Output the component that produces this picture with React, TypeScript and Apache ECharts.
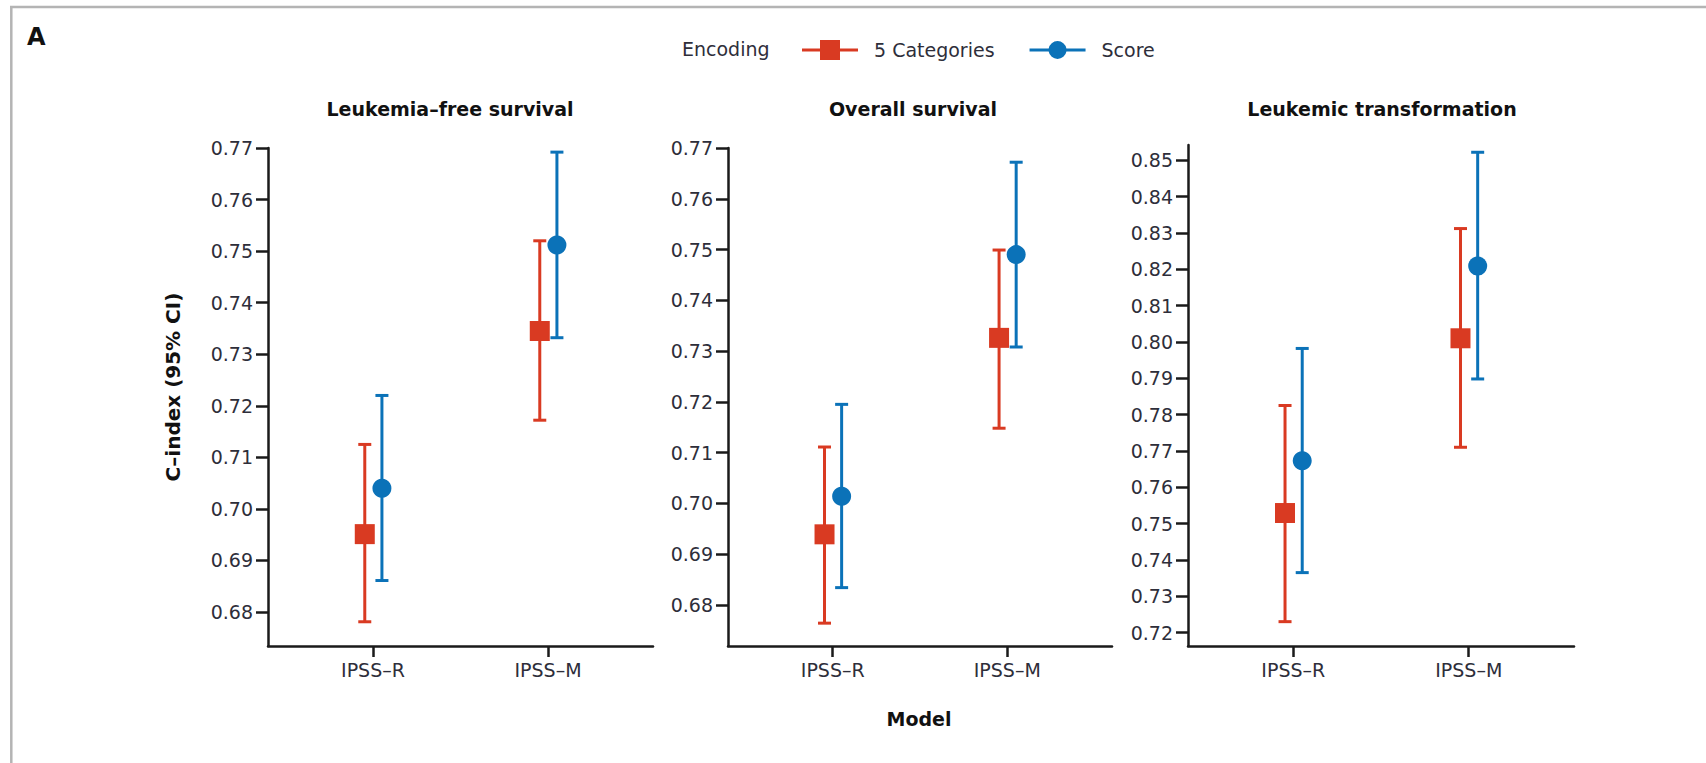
import React, { useEffect, useRef } from "react";
import * as echarts from "echarts";

const categories = ["IPSS–R", "IPSS–M"];
const panelTitles = ["Leukemia–free survival", "Overall survival", "Leukemic transformation"];
const seriesNames = ["5 Categories", "Score"];

// Leukemia-free survival
const lfsCatEst = [0.6951, 0.7345];
const lfsCatLow = [0.6781, 0.7172];
const lfsCatHigh = [0.7125, 0.752];
const lfsScoreEst = [0.704, 0.7512];
const lfsScoreLow = [0.6861, 0.7332];
const lfsScoreHigh = [0.722, 0.7692];

// Overall survival
const osCatEst = [0.6939, 0.7326];
const osCatLow = [0.6764, 0.7148];
const osCatHigh = [0.7111, 0.7499];
const osScoreEst = [0.7014, 0.749];
const osScoreLow = [0.6834, 0.7308];
const osScoreHigh = [0.7195, 0.7672];

// Leukemic transformation
const ltCatEst = [0.7529, 0.801];
const ltCatLow = [0.723, 0.771];
const ltCatHigh = [0.7825, 0.8312];
const ltScoreEst = [0.7673, 0.8209];
const ltScoreLow = [0.7365, 0.7898];
const ltScoreHigh = [0.7982, 0.8522];

const ticksA = [0.68, 0.69, 0.7, 0.71, 0.72, 0.73, 0.74, 0.75, 0.76, 0.77];
const ticksB = [0.68, 0.69, 0.7, 0.71, 0.72, 0.73, 0.74, 0.75, 0.76, 0.77];
const ticksC = [0.72, 0.73, 0.74, 0.75, 0.76, 0.77, 0.78, 0.79, 0.8, 0.81, 0.82, 0.83, 0.84, 0.85];

const RED = "#d93a22";
const BLUE = "#0b72b8";
const FONT = "DejaVu Sans";

const panels = [
  { title: panelTitles[0], ticks: ticksA, yMin: 0.6734, yMax: 0.77,
    cat: [lfsCatEst, lfsCatLow, lfsCatHigh], score: [lfsScoreEst, lfsScoreLow, lfsScoreHigh] },
  { title: panelTitles[1], ticks: ticksB, yMin: 0.6719, yMax: 0.77,
    cat: [osCatEst, osCatLow, osCatHigh], score: [osScoreEst, osScoreLow, osScoreHigh] },
  { title: panelTitles[2], ticks: ticksC, yMin: 0.7163, yMax: 0.8542,
    cat: [ltCatEst, ltCatLow, ltCatHigh], score: [ltScoreEst, ltScoreLow, ltScoreHigh] },
];

const grids = [
  { left: 268, top: 148, width: 385, height: 498 },
  { left: 728, top: 148, width: 384, height: 498 },
  { left: 1188, top: 145, width: 386, height: 501 },
];
const titleCenters = [450, 913, 1382];

const DODGE = [-0.047, 0.051];

const squareIcon = "path://M0,8.5H18V0H38V8.5H56V11.5H38V20H18V11.5H0Z";
const circleIcon =
  "path://M0,8.5H19.13A9,9 0 0 1 36.87,8.5H56V11.5H36.87A9,9 0 0 1 19.13,11.5H0Z";

function errorRender(color: string) {
  return (params: any, api: any) => {
    const x = api.value(0);
    const lo = api.value(1);
    const hi = api.value(2);
    const t = api.coord([x, hi]);
    const b = api.coord([x, lo]);
    const cap = 6.5;
    const st = { stroke: color, lineWidth: 3 };
    return {
      type: "group",
      children: [
        { type: "line", shape: { x1: t[0], y1: t[1], x2: b[0], y2: b[1] }, style: st },
        { type: "line", shape: { x1: t[0] - cap, y1: t[1], x2: t[0] + cap, y2: t[1] }, style: st },
        { type: "line", shape: { x1: b[0] - cap, y1: b[1], x2: b[0] + cap, y2: b[1] }, style: st },
      ],
    };
  };
}

export default function App() {
  const ref = useRef<HTMLDivElement>(null);
  useEffect(() => {
    if (!ref.current) return;
    const chart = echarts.init(ref.current, null, { renderer: "svg" });

    const xAxis: any[] = [];
    const yAxis: any[] = [];
    const series: any[] = [];

    panels.forEach((p, gi) => {
      xAxis.push({
        type: "value",
        gridIndex: gi,
        min: 0.4,
        max: 2.6,
        splitLine: { show: false },
        axisLine: { show: true, lineStyle: { color: "#1a1a1a", width: 2.5 } },
        axisTick: { show: true, length: 11, customValues: [1, 2], lineStyle: { color: "#1a1a1a", width: 2.5 } },
        axisLabel: {
          show: true,
          customValues: [1, 2],
          margin: 14,
          fontFamily: FONT,
          fontSize: 19,
          color: "#2e2e3a",
          formatter: (v: number) => categories[Math.round(v) - 1] || "",
        },
      });
      yAxis.push({
        type: "value",
        gridIndex: gi,
        min: p.yMin,
        max: p.yMax,
        splitLine: { show: false },
        axisLine: { show: true, lineStyle: { color: "#1a1a1a", width: 2.5 } },
        axisTick: { show: true, length: 12, customValues: p.ticks, lineStyle: { color: "#1a1a1a", width: 2.5 } },
        axisLabel: {
          show: true,
          customValues: p.ticks,
          margin: 15,
          fontFamily: FONT,
          fontSize: 19,
          color: "#2e2e3a",
          formatter: (v: number) => v.toFixed(2),
        },
      });
      const groups = [p.cat, p.score];
      groups.forEach((g, si) => {
        const color = si === 0 ? RED : BLUE;
        series.push({
          type: "custom",
          name: seriesNames[si],
          xAxisIndex: gi,
          yAxisIndex: gi,
          renderItem: errorRender(color),
          itemStyle: { color },
          encode: { x: 0, y: [1, 2] },
          data: categories.map((_, i) => [i + 1 + DODGE[si], g[1][i], g[2][i]]),
          z: 2,
        });
        series.push({
          type: "scatter",
          name: seriesNames[si],
          xAxisIndex: gi,
          yAxisIndex: gi,
          symbol: si === 0 ? "rect" : "circle",
          symbolSize: si === 0 ? 20 : 19,
          itemStyle: { color, opacity: 1 },
          data: categories.map((_, i) => [i + 1 + DODGE[si], g[0][i]]),
          z: 3,
        });
      });
    });

    const graphics: any[] = [
      { type: "line", shape: { x1: 10, y1: 7, x2: 1706, y2: 7 }, style: { stroke: "#b4b4b4", lineWidth: 2.5 } },
      { type: "line", shape: { x1: 11.3, y1: 7, x2: 11.3, y2: 763 }, style: { stroke: "#b4b4b4", lineWidth: 2.5 } },
      { type: "text", x: 27, y: 37, style: { text: "A", font: `bold 24px "${FONT}"`, fill: "#111", verticalAlign: "middle" } },
      { type: "text", x: 682, y: 49, style: { text: "Encoding", font: `19px "${FONT}"`, fill: "#2e2e3a", verticalAlign: "middle" } },
      {
        type: "text", x: 173, y: 387, rotation: Math.PI / 2,
        style: { text: "C–index (95% CI)", font: `bold 20px "${FONT}"`, fill: "#111", align: "center", verticalAlign: "middle" },
      },
      { type: "text", x: 919, y: 719, style: { text: "Model", font: `bold 19px "${FONT}"`, fill: "#111", align: "center", verticalAlign: "middle" } },
      ...panels.map((p, i) => ({
        type: "text", x: titleCenters[i], y: 109,
        style: { text: p.title, font: `bold 19px "${FONT}"`, fill: "#111", align: "center", verticalAlign: "middle" },
      })),
    ];

    chart.setOption({
      animation: false,
      backgroundColor: "#ffffff",
      textStyle: { fontFamily: FONT },
      grid: grids,
      xAxis,
      yAxis,
      legend: {
        left: 797,
        top: 35,
        itemWidth: 56,
        itemHeight: 20,
        itemGap: 35,
        selectedMode: false,
        data: [
          { name: seriesNames[0], icon: squareIcon, itemStyle: { color: RED } },
          { name: seriesNames[1], icon: circleIcon, itemStyle: { color: BLUE } },
        ],
        textStyle: { fontFamily: FONT, fontSize: 19, color: "#2e2e3a", padding: [0, 0, 0, 11] },
      },
      series,
      graphic: graphics,
    });
    return () => chart.dispose();
  }, []);
  return <div ref={ref} style={{ position: "absolute", left: 0, top: 0, width: 1706, height: 763 }} />;
}
